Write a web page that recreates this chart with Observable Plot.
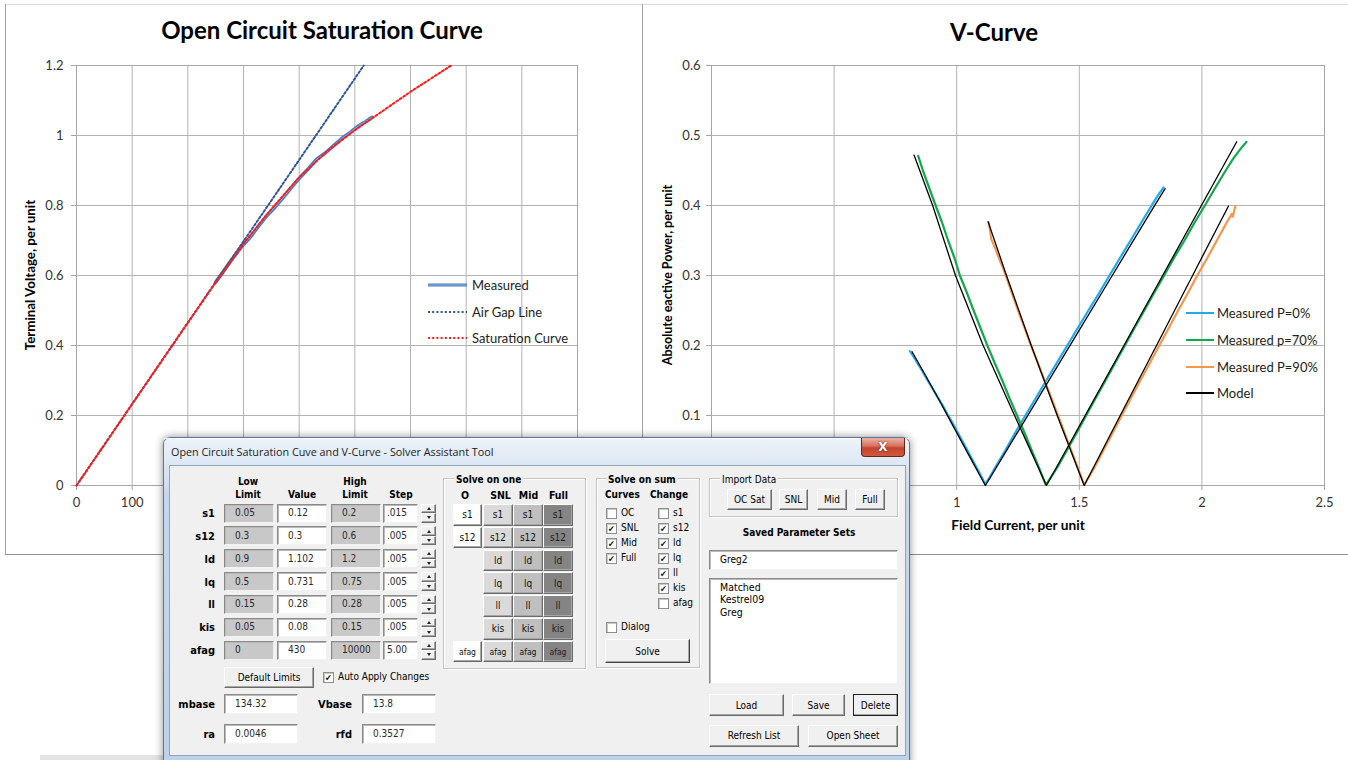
<!DOCTYPE html>
<html>
<head>
<meta charset="utf-8">
<script src="https://cdn.jsdelivr.net/npm/d3@7"></script>
<script src="https://cdn.jsdelivr.net/npm/@observablehq/plot@0.6"></script>
<style>
  html, body { margin: 0; padding: 0; background: #fff; }
  #page { position: relative; width: 1348px; height: 760px; overflow: hidden; background: #fff; font-family: Lato, "Open Sans", sans-serif; }
  .abs { position: absolute; box-sizing: border-box; }
  .txt { position: absolute; white-space: nowrap; line-height: 1; }
  .dlg { font-family: "DejaVu Sans Condensed", "DejaVu Sans", sans-serif; font-stretch: condensed; font-size: 10px; color: #000; }
  .sunk { border: 1px solid; border-color: #8a8a8a #f2f2f2 #f2f2f2 #8a8a8a; box-shadow: inset 1px 1px 0 #b9b9b9; }
  .raised { border: 1px solid; border-color: #ffffff #6b6b6b #6b6b6b #ffffff; box-shadow: inset -1px -1px 0 #a6a6a6; display: flex; align-items: center; justify-content: center; }
  .grp { border: 1px solid #c4c4c4; box-shadow: inset 1px 1px 0 #fff, 1px 1px 0 #fff; }
  .cb { width: 11px; height: 11px; background: #fff; border: 1px solid #8e8f8f; box-shadow: inset 1px 1px 0 #c9c9c9; font-size: 9px; line-height: 10px; text-align: center; color: #1a1a1a; }
</style>
</head>
<body>
<div id="page"></div>
<script>
// ---------- Open circuit saturation curve (field current A, terminal voltage pu)
const measuredField = [250, 266, 282, 297, 312, 327, 342, 357, 372, 387, 402, 417, 432, 447, 462, 477, 492, 507, 520, 531];
const measuredVolts = [0.581, 0.616, 0.652, 0.683, 0.709, 0.741, 0.771, 0.796, 0.824, 0.853, 0.881, 0.906, 0.933, 0.950, 0.971, 0.992, 1.009, 1.028, 1.040, 1.052];
const airGapField = [0, 516];
const airGapVolts = [0, 1.2];
const satField = [0, 100, 200, 250, 300, 350, 400, 450, 500, 550, 600, 673];
const satVolts = [0, 0.233, 0.465, 0.580, 0.690, 0.790, 0.880, 0.955, 1.015, 1.070, 1.125, 1.2];
const ocXTicks = [0, 100, 200, 300, 400, 500, 600, 700, 800, 900];
const ocXLabels = [0, 100];              // the rest sit behind the solver window
const ocYTicks = [0, 0.2, 0.4, 0.6, 0.8, 1, 1.2];
const ocLegendLabels = ["Measured", "Air Gap Line", "Saturation Curve"];

// ---------- V-curves: [field current pu, |reactive power| pu]
const measuredP0 = [
  [0.809, 0.192], [0.826, 0.183], [0.845, 0.172], [0.861, 0.163], [0.880, 0.151], [0.899, 0.140],
  [0.921, 0.127], [0.940, 0.116], [0.962, 0.102], [0.984, 0.089], [1.005, 0.075], [1.027, 0.061],
  [1.050, 0.046], [1.071, 0.032], [1.094, 0.017], [1.116, 0.002],
  [1.135, 0.012], [1.156, 0.025], [1.198, 0.050], [1.238, 0.075], [1.280, 0.100], [1.323, 0.125],
  [1.365, 0.150], [1.408, 0.175], [1.451, 0.200], [1.494, 0.225], [1.537, 0.250], [1.581, 0.275],
  [1.623, 0.300], [1.666, 0.325], [1.709, 0.350], [1.752, 0.375], [1.795, 0.400], [1.820, 0.414], [1.844, 0.426]
];
const measuredP70 = [
  [0.843, 0.471], [0.862, 0.450], [0.888, 0.425], [0.914, 0.400], [0.941, 0.375], [0.965, 0.350],
  [0.991, 0.325], [1.013, 0.300], [1.042, 0.275], [1.069, 0.250], [1.097, 0.225], [1.125, 0.200],
  [1.155, 0.175], [1.186, 0.150], [1.215, 0.125], [1.246, 0.100], [1.277, 0.075], [1.306, 0.050],
  [1.336, 0.025], [1.362, 0.002],
  [1.370, 0.004], [1.409, 0.025], [1.449, 0.050], [1.489, 0.075], [1.528, 0.100], [1.567, 0.125],
  [1.607, 0.150], [1.646, 0.175], [1.686, 0.200], [1.725, 0.225], [1.765, 0.250], [1.805, 0.275],
  [1.846, 0.300], [1.886, 0.325], [1.929, 0.350], [1.969, 0.375], [2.012, 0.400], [2.054, 0.425],
  [2.097, 0.450], [2.130, 0.468], [2.160, 0.482], [2.182, 0.491]
];
const measuredP90 = [
  [1.130, 0.376], [1.136, 0.365], [1.141, 0.352], [1.158, 0.338], [1.172, 0.325], [1.187, 0.312],
  [1.200, 0.300], [1.224, 0.276], [1.250, 0.250], [1.277, 0.225], [1.303, 0.200], [1.331, 0.175],
  [1.358, 0.150], [1.386, 0.125], [1.413, 0.100], [1.440, 0.075], [1.467, 0.050], [1.494, 0.025], [1.519, 0.002],
  [1.525, 0.004], [1.561, 0.025], [1.598, 0.050], [1.636, 0.075], [1.673, 0.100], [1.711, 0.125],
  [1.749, 0.150], [1.788, 0.175], [1.826, 0.200], [1.865, 0.225], [1.903, 0.250], [1.943, 0.275],
  [1.981, 0.300], [2.022, 0.325], [2.061, 0.350], [2.100, 0.375], [2.122, 0.388], [2.126, 0.384], [2.136, 0.399]
];
const modelP0 = [
  [0.818, 0.191], [0.870, 0.159], [0.930, 0.121], [0.990, 0.082], [1.050, 0.043], [1.117, 0.000],
  [1.200, 0.048], [1.300, 0.106], [1.400, 0.164], [1.500, 0.222], [1.600, 0.280], [1.700, 0.338],
  [1.800, 0.396], [1.850, 0.424]
];
const modelP70 = [
  [0.826, 0.472], [0.902, 0.400], [0.995, 0.300], [1.108, 0.200], [1.236, 0.100], [1.366, 0.000],
  [1.524, 0.100], [1.682, 0.200], [1.840, 0.300], [1.998, 0.400], [2.142, 0.491]
];
const modelP90 = [
  [1.128, 0.377], [1.203, 0.300], [1.304, 0.200], [1.410, 0.100], [1.520, 0.000],
  [1.667, 0.100], [1.815, 0.200], [1.962, 0.300], [2.108, 0.399]
];
const vcXTicks = [0, 0.5, 1, 1.5, 2, 2.5];
const vcXLabels = [1, 1.5, 2, 2.5];      // 0 and 0.5 sit behind the solver window
const vcYTicks = [0, 0.1, 0.2, 0.3, 0.4, 0.5, 0.6];
const vcLegendLabels = ["Measured P=0%", "Measured p=70%", "Measured P=90%", "Model"];
const vcColors = ["#1eaaeb", "#12a84e", "#f7964a", "#000000"];

// ---------- Solver assistant dialog contents
const paramNames = ["s1", "s12", "ld", "lq", "ll", "kis", "afag"];
const lowLimits = ["0.05", "0.3", "0.9", "0.5", "0.15", "0.05", "0"];
const paramValues = ["0.12", "0.3", "1.102", "0.731", "0.28", "0.08", "430"];
const highLimits = ["0.2", "0.6", "1.2", "0.75", "0.28", "0.15", "10000"];
const stepSizes = [".015", ".005", ".005", ".005", ".005", ".005", "5.00"];
const solveOneColumns = ["O", "SNL", "Mid", "Full"];
const curveNames = ["OC", "SNL", "Mid", "Full"];
const curveChecked = [false, true, true, true];
const changeNames = ["s1", "s12", "ld", "lq", "ll", "kis", "afag"];
const changeChecked = [false, true, true, true, true, true, false];
const importButtons = ["OC Sat", "SNL", "Mid", "Full"];
const savedSets = ["Matched", "Kestrel09", "Greg"];
const baseFields = [["mbase", "134.32"], ["Vbase", "13.8"], ["ra", "0.0046"], ["rfd", "0.3527"]];

const page = document.getElementById("page");

function div(cls, x, y, w, h, css) {
  const e = document.createElement("div");
  e.className = "abs " + (cls || "");
  e.style.left = x + "px"; e.style.top = y + "px";
  if (w != null) e.style.width = w + "px";
  if (h != null) e.style.height = h + "px";
  if (css) e.style.cssText += css;
  page.appendChild(e);
  return e;
}
function text(x, y, str, opt = {}) {
  const e = document.createElement("div");
  e.className = "txt " + (opt.cls || "");
  e.textContent = str;
  const ax = opt.anchor === "middle" ? -50 : opt.anchor === "end" ? -100 : 0;
  const tf = opt.rotate ? "translate(-50%,-50%) rotate(-90deg)" : `translate(${ax}%,-50%)`;
  e.style.cssText += `left:${x}px;top:${y}px;transform:${tf};` + (opt.css || "");
  page.appendChild(e);
  return e;
}
function legendSwatch(x, y, w, color, width, dash, inner) {
  const ns = "http://www.w3.org/2000/svg";
  const s = document.createElementNS(ns, "svg");
  s.setAttribute("width", w); s.setAttribute("height", 8);
  s.style.cssText = `position:absolute;left:${x}px;top:${y - 4}px;overflow:visible`;
  const mk = (c, sw) => {
    const l = document.createElementNS(ns, "line");
    l.setAttribute("x1", 0); l.setAttribute("x2", w); l.setAttribute("y1", 4); l.setAttribute("y2", 4);
    l.setAttribute("stroke", c); l.setAttribute("stroke-width", sw);
    if (dash) l.setAttribute("stroke-dasharray", dash);
    s.appendChild(l);
  };
  mk(color, width);
  if (inner) mk(inner, 0.8);
  page.appendChild(s);
}

// ---------- chart area outlines
div("", 5, 4, 1343, 1, "background:#dcdcdc");
div("", 5, 4, 1, 550, "background:#a3a3a3");
div("", 642, 4, 1, 550, "background:#a3a3a3");
div("", 5, 554, 1343, 1, "background:#8f8f8f");

const gridColor = "#b3b3b3";
const axisStyle = { background: "none", fontFamily: "Lato, 'Open Sans', sans-serif", fontSize: "13px", color: "#333", overflow: "visible" };
const xy = { x: d => d[0], y: d => d[1] };
const measuredTrace = d3.zip(measuredField, measuredVolts);

// ---------- Open circuit saturation chart
const ocPlot = Plot.plot({
  width: 641, height: 553,
  marginLeft: 76, marginRight: 64, marginTop: 65, marginBottom: 68,
  x: { domain: [0, 900] },
  y: { domain: [0, 1.2] },
  style: axisStyle,
  marks: [
    Plot.gridX(ocXTicks, { stroke: gridColor, strokeOpacity: 1 }),
    Plot.gridY(ocYTicks, { stroke: gridColor, strokeOpacity: 1 }),
    Plot.frame({ stroke: "#a6a6a6" }),
    Plot.axisX(ocXTicks, { tickSize: 5, text: null, label: null, stroke: "#a6a6a6" }),
    Plot.axisX(ocXLabels, { tickSize: 0, tickPadding: 12, label: null, fill: "#333", tickFormat: d => String(d) }),
    Plot.axisY(ocYTicks, { tickSize: 5, tickPadding: 8, label: null, stroke: "#a6a6a6", fill: "#333", tickFormat: d => String(d) }),
    // measured trace: outlined blue band with a lighter core
    Plot.line(measuredTrace, { ...xy, stroke: "#4a7dbf", strokeWidth: 3.6 }),
    Plot.line(measuredTrace, { ...xy, stroke: "#9dbce4", strokeWidth: 0.9 }),
    Plot.line(d3.zip(airGapField, airGapVolts), { ...xy, stroke: "#2e5597", strokeWidth: 2, strokeDasharray: "2,2.2" }),
    Plot.line(d3.zip(satField, satVolts), { ...xy, stroke: "#ff1a1a", strokeWidth: 2, strokeDasharray: "2,2.2" })
  ]
});
ocPlot.style.position = "absolute"; ocPlot.style.left = "0px"; ocPlot.style.top = "0px";
page.appendChild(ocPlot);

// ---------- V-curve chart
const vcPlot = Plot.plot({
  width: 707, height: 553,
  marginLeft: 70, marginRight: 24, marginTop: 65, marginBottom: 68,
  x: { domain: [0, 2.5] },
  y: { domain: [0, 0.6] },
  style: axisStyle,
  marks: [
    Plot.gridX(vcXTicks, { stroke: gridColor, strokeOpacity: 1 }),
    Plot.gridY(vcYTicks, { stroke: gridColor, strokeOpacity: 1 }),
    Plot.frame({ stroke: "#a6a6a6" }),
    Plot.axisX(vcXTicks, { tickSize: 5, text: null, label: null, stroke: "#a6a6a6" }),
    Plot.axisX(vcXLabels, { tickSize: 0, tickPadding: 12, label: null, fill: "#333", tickFormat: d => String(d) }),
    Plot.axisY(vcYTicks, { tickSize: 5, tickPadding: 6, label: null, stroke: "#a6a6a6", fill: "#333", tickFormat: d => String(d) }),
    Plot.line(measuredP0, { ...xy, stroke: vcColors[0], strokeWidth: 2.2 }),
    Plot.line(measuredP70, { ...xy, stroke: vcColors[1], strokeWidth: 2.2 }),
    Plot.line(measuredP90, { ...xy, stroke: vcColors[2], strokeWidth: 2.2 }),
    Plot.line(modelP0, { ...xy, stroke: vcColors[3], strokeWidth: 1.3 }),
    Plot.line(modelP70, { ...xy, stroke: vcColors[3], strokeWidth: 1.3 }),
    Plot.line(modelP90, { ...xy, stroke: vcColors[3], strokeWidth: 1.3 })
  ]
});
vcPlot.style.position = "absolute"; vcPlot.style.left = "641px"; vcPlot.style.top = "0px";
page.appendChild(vcPlot);

// ---------- titles, axis titles, legends
const titleCss = "font-weight:700;font-size:24px;color:#000;";
text(322, 30, "Open Circuit Saturation Curve", { anchor: "middle", css: titleCss });
text(994, 32, "V-Curve", { anchor: "middle", css: titleCss });
const axTitleCss = "font-weight:700;color:#000;";
text(31, 275, "Terminal Voltage, per unit", { rotate: true, css: axTitleCss + "font-size:13.3px;" });
text(668, 275, "Absolute eactive Power, per unit", { rotate: true, css: axTitleCss + "font-size:12.5px;" });
text(1018, 525, "Field Current, per unit", { anchor: "middle", css: axTitleCss + "font-size:13.7px;" });

const legCss = "font-size:13px;color:#222;";
const ocLegY = [285, 311.5, 338];
legendSwatch(428, ocLegY[0], 39, "#4a7dbf", 3.2, null, "#9dbce4");
legendSwatch(428, ocLegY[1], 39, "#2e5597", 2, "2,2.2");
legendSwatch(428, ocLegY[2], 39, "#ff1a1a", 2, "2,2.2");
ocLegendLabels.forEach((s, i) => text(472, ocLegY[i], s, { css: legCss }));

const vcLegY = [312.5, 339.5, 366.5, 393];
vcLegendLabels.forEach((s, i) => {
  legendSwatch(1186, vcLegY[i], 28, vcColors[i], 2);
  text(1217, vcLegY[i], s, { css: legCss });
});

// faint strip beneath the worksheet
div("", 40, 755, 124, 5, "background:#e4e4e4");

// ---------- Solver assistant dialog
div("", 163, 437, 747, 335,
  "border:1px solid #5a7699;border-radius:7px 7px 0 0;background:linear-gradient(to bottom,#eef3fa 0px,#dde8f5 26px,#c5d7ed 60px,#bcd1ea 100%);box-shadow:0 0 9px rgba(0,0,0,0.45);");
div("", 164, 438, 745, 1, "background:rgba(255,255,255,0.8)");
text(171, 452, "Open Circuit Saturation Cuve and V-Curve - Solver Assistant Tool",
  { css: "font-family:'Open Sans',sans-serif;font-size:10.8px;color:#1b1b1b;" });
const closeBtn = div("", 861, 438, 44, 19,
  "border:1px solid #6d2419;border-top:none;border-radius:0 0 4px 4px;background:linear-gradient(to bottom,#eab2a6 0%,#d7705c 45%,#c2432d 55%,#cf5a40 100%);color:#fff;font:bold 12px 'DejaVu Sans',sans-serif;display:flex;align-items:center;justify-content:center;text-shadow:0 0 2px #5a1a10;");
closeBtn.textContent = "X";
div("", 169, 465, 737, 291, "background:#f0f0f0;border:1px solid #8ea3bd;");

const dc = { cls: "dlg" };
const bold = "font-weight:700;";

// parameter table
const rowY = r => 513 + r * 22.85;
text(248, 482, "Low", { ...dc, anchor: "middle", css: bold });
text(248, 494.5, "Limit", { ...dc, anchor: "middle", css: bold });
text(302, 494.5, "Value", { ...dc, anchor: "middle", css: bold });
text(355, 482, "High", { ...dc, anchor: "middle", css: bold });
text(355, 494.5, "Limit", { ...dc, anchor: "middle", css: bold });
text(401, 494.5, "Step", { ...dc, anchor: "middle", css: bold });

paramNames.forEach((name, r) => {
  const y = rowY(r);
  text(215, y, name, { ...dc, anchor: "end", css: bold + "font-size:11px;" });
  const cells = [
    [224, 50, lowLimits[r], "#c8c8c8"],
    [277, 50, paramValues[r], "#ffffff"],
    [331, 50, highLimits[r], "#c8c8c8"],
    [383, 35, stepSizes[r], "#ffffff"]
  ];
  cells.forEach(([x, w, v, bg]) => {
    div("sunk", x, y - 9.5, w, 19, `background:${bg}`);
    text(x + (w === 35 ? 4 : 11), y, v, { ...dc, css: "color:#2a2a2a;" });
  });
  // spin buttons
  const up = div("raised", 421, y - 9.5, 15, 9.5, "background:#f0f0f0;");
  const dn = div("raised", 421, y, 15, 9.5, "background:#f0f0f0;");
  up.innerHTML = '<div style="width:0;height:0;border-left:2.5px solid transparent;border-right:2.5px solid transparent;border-bottom:3px solid #222"></div>';
  dn.innerHTML = '<div style="width:0;height:0;border-left:2.5px solid transparent;border-right:2.5px solid transparent;border-top:3px solid #222"></div>';
});

const defBtn = div("raised dlg", 224, 667, 90, 21, "background:#f0f0f0;");
defBtn.textContent = "Default Limits";
const cbAuto = div("cb dlg", 323, 671.5, 11, 11);
cbAuto.textContent = "✔";
text(338, 677, "Auto Apply Changes", dc);

// base quantities
const basePos = [[215, 224, 703.5], [352, 362, 703.5], [215, 224, 734], [352, 362, 734]];
baseFields.forEach(([name, val], i) => {
  const [lx, bx, y] = basePos[i];
  text(lx, y, name, { ...dc, anchor: "end", css: bold + "font-size:11px;" });
  div("sunk", bx, y - 10, 74, 20, "background:#fff");
  text(bx + 11, y, val, { ...dc, css: "color:#2a2a2a;" });
});

// "Solve on one" group
div("grp", 443, 478, 143, 191);
text(454, 479.5, "Solve on one", { ...dc, css: bold + "background:#f0f0f0;padding:0 2px;" });
const oneColX = [453, 483, 513, 543];
const oneColW = [29, 30, 30, 30];
const oneColCenter = [465, 500.5, 528.5, 558.5];
const oneColFill = ["#ffffff", "#dadada", "#bfbfbf", "#848484"];
solveOneColumns.forEach((c, j) => text(oneColCenter[j], 495, c, { ...dc, anchor: "middle", css: bold + "font-size:10.5px;" }));
paramNames.forEach((name, r) => {
  oneColX.forEach((x, j) => {
    if (j === 0 && r > 1 && r < 6) return;
    const b = div("raised dlg", x, 504 + r * 22.8, oneColW[j], 21.5,
      `background:${oneColFill[j]};color:${j === 3 ? "#1e1e1e" : "#111"};` + (r === 6 ? "font-size:8.5px;" : ""));
    b.textContent = name;
  });
});

// "Solve on sum" group
div("grp", 596, 478, 104, 190);
text(606, 479.5, "Solve on sum", { ...dc, css: bold + "background:#f0f0f0;padding:0 2px;" });
text(605, 495, "Curves", { ...dc, css: bold });
text(650, 495, "Change", { ...dc, css: bold });
curveNames.forEach((n, i) => {
  const y = 513 + i * 15;
  const c = div("cb dlg", 606, y - 5.5, 11, 11);
  if (curveChecked[i]) c.textContent = "✔";
  text(621, y, n, dc);
});
changeNames.forEach((n, i) => {
  const y = 513 + i * 15;
  const c = div("cb dlg", 658, y - 5.5, 11, 11);
  if (changeChecked[i]) c.textContent = "✔";
  text(673, y, n, dc);
});
div("cb dlg", 606, 621.5, 11, 11);
text(621, 627, "Dialog", dc);
const solveBtn = div("raised dlg", 605, 639, 85, 24, "background:#f0f0f0;border-color:#fff #444 #444 #fff;");
solveBtn.textContent = "Solve";

// "Import Data" group
div("grp", 709, 478, 189, 39);
text(720, 479.5, "Import Data", { ...dc, css: "background:#f0f0f0;padding:0 2px;" });
const impX = [727, 779, 817, 855];
const impW = [45, 29, 30, 30];
importButtons.forEach((s, i) => {
  const b = div("raised dlg", impX[i], 489, impW[i], 21, "background:#f0f0f0;");
  b.textContent = s;
});

text(799, 533, "Saved Parameter Sets", { ...dc, anchor: "middle", css: bold });
div("sunk", 709, 550, 189, 20, "background:#fff");
text(720, 560, "Greg2", dc);
div("sunk", 709, 578, 189, 106, "background:#fff");
savedSets.forEach((s, i) => text(720, 586.5 + i * 12.7, s, { ...dc, css: "font-size:10.5px;" }));

const btnDefs = [["Load", 709, 694, 75, 22], ["Save", 792, 694, 53, 22], ["Delete", 853, 694, 45, 22],
                 ["Refresh List", 709, 724.5, 90, 22.5], ["Open Sheet", 808, 724.5, 90, 22.5]];
btnDefs.forEach(([s, x, y, w, h]) => {
  const b = div("raised dlg", x, y, w, h, "background:#f0f0f0;" + (s === "Delete" ? "outline:1px solid #222;outline-offset:-1px;" : ""));
  b.textContent = s;
});
</script>
</body>
</html>
